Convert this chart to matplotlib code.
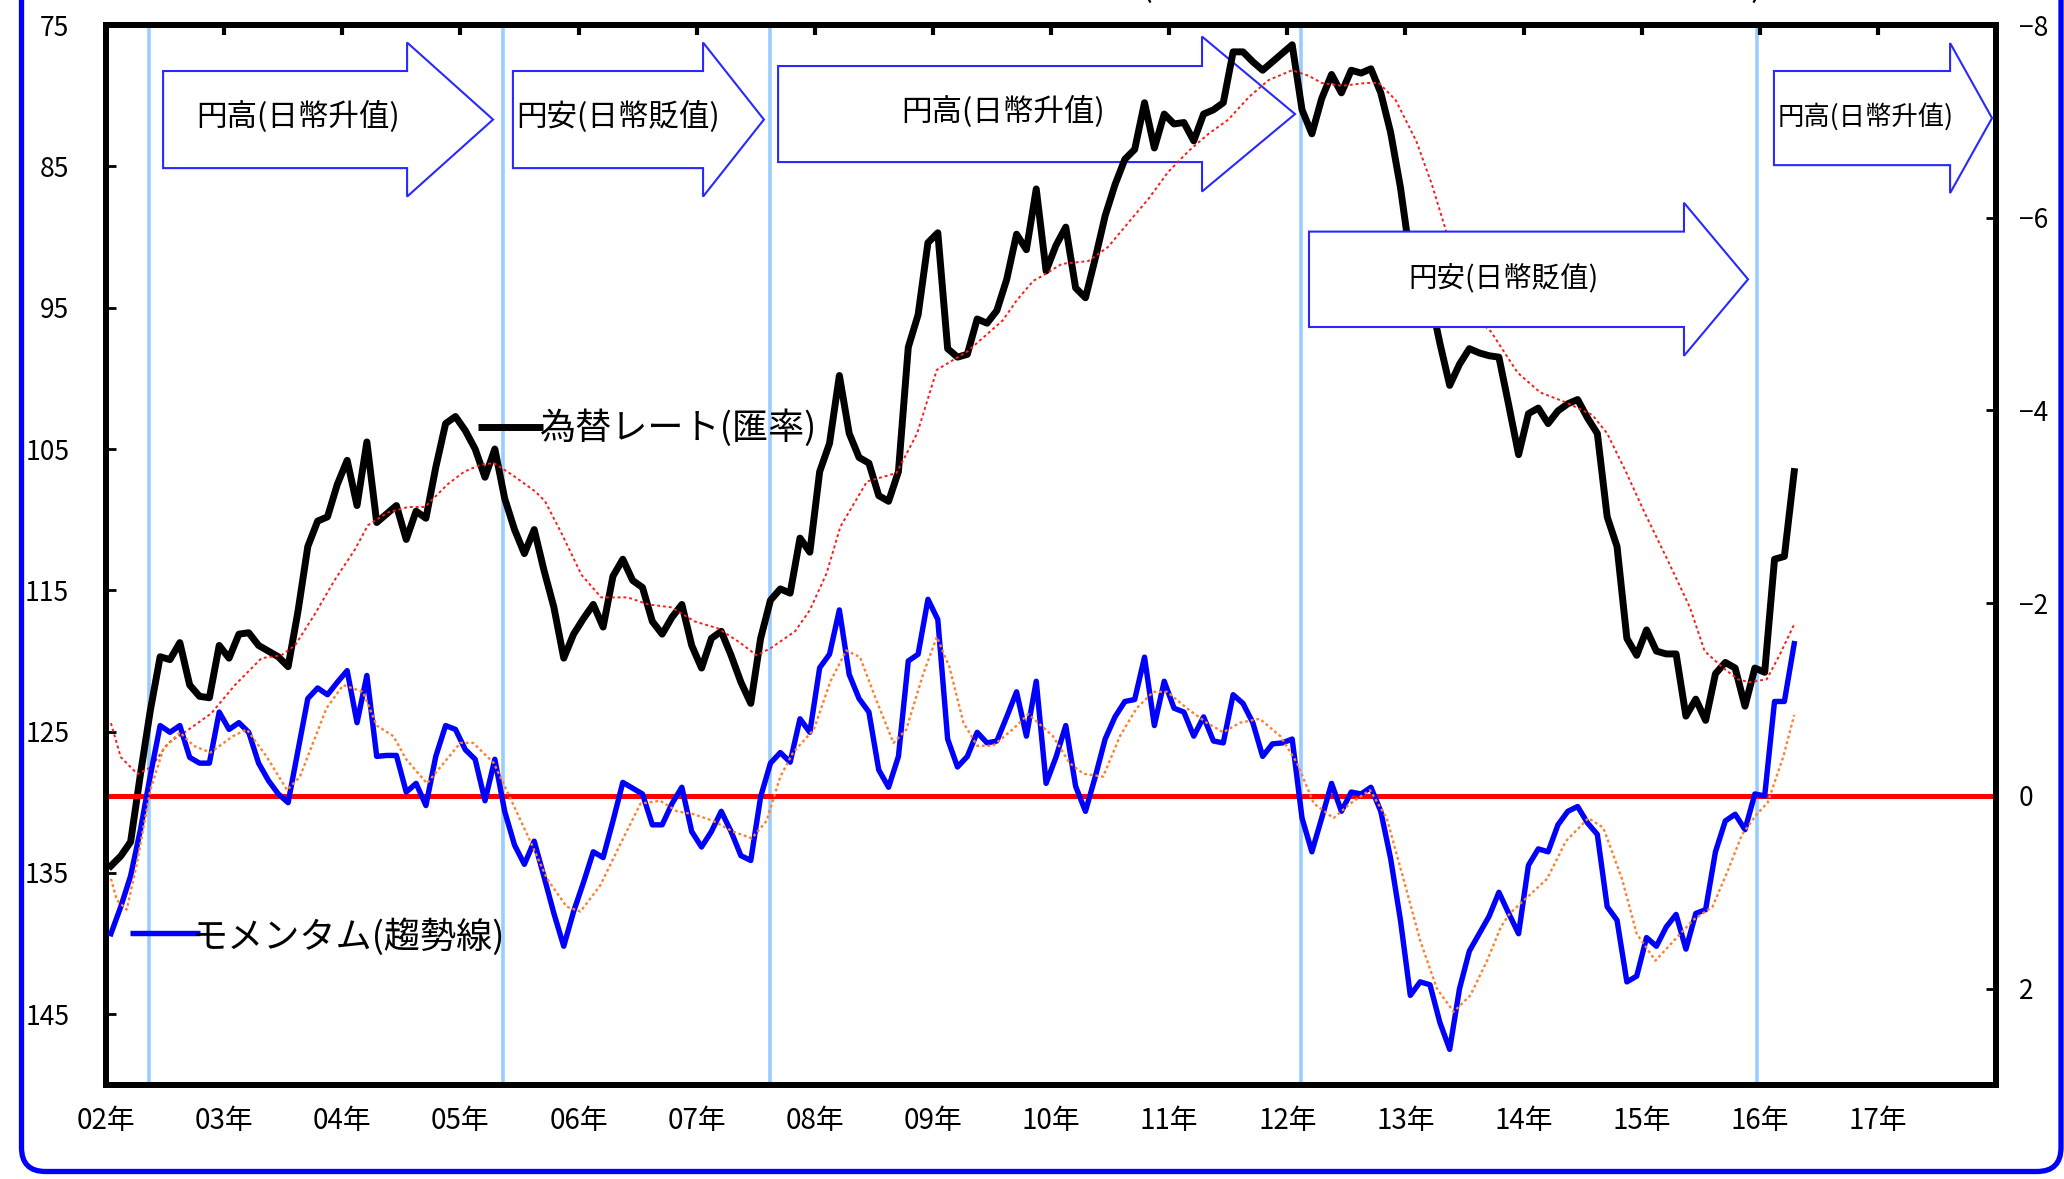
import matplotlib
matplotlib.use("Agg")
import matplotlib.pyplot as plt
from matplotlib.patches import Polygon, FancyBboxPatch
from matplotlib.transforms import IdentityTransform
import numpy as np

plt.rcParams['font.family'] = ['Noto Sans CJK JP', 'DejaVu Sans']
plt.rcParams['axes.unicode_minus'] = True

# month-end USD/JPY, Jan 2002 .. Apr 2016 (left axis, reversed)
fx_rate = [
    134.5, 133.8, 132.8, 128.0, 123.5, 119.7, 119.9, 118.7, 121.7, 122.5, 122.6, 118.9,
    119.8, 118.1, 118.0, 118.9, 119.3, 119.7, 120.4, 116.5, 111.9, 110.1, 109.8, 107.5,
    105.8, 109.0, 104.5, 110.2, 109.6, 109.0, 111.4, 109.4, 109.9, 106.3, 103.2, 102.7,
    103.7, 105.0, 107.0, 105.0, 108.5, 110.7, 112.4, 110.7, 113.6, 116.2, 119.8, 118.1,
    117.0, 116.0, 117.6, 114.0, 112.8, 114.3, 114.8, 117.2, 118.1, 116.9, 116.0, 118.9,
    120.5, 118.4, 117.9, 119.6, 121.5, 123.0, 118.4, 115.7, 114.9, 115.2, 111.3, 112.3,
    106.6, 104.6, 99.8, 103.9, 105.6, 106.0, 108.3, 108.7, 106.6, 97.8, 95.5, 90.4,
    89.7, 97.9, 98.5, 98.3, 95.8, 96.1, 95.2, 93.0, 89.8, 90.9, 86.6, 92.4,
    90.6, 89.3, 93.6, 94.3, 91.5, 88.5, 86.3, 84.5, 83.8, 80.5, 83.7, 81.3,
    82.0, 81.9, 83.2, 81.3, 81.0, 80.5, 76.9, 76.9, 77.6, 78.2, 77.6, 77.0,
    76.4, 81.0, 82.7, 80.2, 78.5, 79.8, 78.2, 78.4, 78.1, 79.8, 82.6, 86.5,
    91.5, 92.6, 94.2, 97.5, 100.5, 99.0, 97.9, 98.2, 98.4, 98.5, 101.9, 105.4,
    102.5, 102.1, 103.2, 102.3, 101.8, 101.5, 102.8, 103.9, 109.8, 111.9, 118.4, 119.6,
    117.8, 119.3, 119.5, 119.5, 123.9, 122.7, 124.2, 120.9, 120.1, 120.5, 123.2, 120.5,
    120.8, 112.8, 112.6, 106.6,
]

# momentum (right axis, reversed)
momentum = [
    1.43, 1.15, 0.83, 0.35, -0.21, -0.73, -0.66, -0.73, -0.40, -0.34, -0.34, -0.87,
    -0.69, -0.76, -0.66, -0.34, -0.16, -0.02, 0.07, -0.47, -1.01, -1.12, -1.05, -1.18,
    -1.30, -0.76, -1.25, -0.41, -0.42, -0.42, -0.04, -0.13, 0.10, -0.41, -0.73, -0.69,
    -0.48, -0.38, 0.05, -0.38, 0.16, 0.51, 0.71, 0.47, 0.84, 1.22, 1.56, 1.20,
    0.90, 0.58, 0.64, 0.26, -0.14, -0.08, -0.02, 0.30, 0.30, 0.08, -0.09, 0.37,
    0.53, 0.37, 0.16, 0.37, 0.62, 0.67, 0.01, -0.34, -0.45, -0.35, -0.80, -0.66,
    -1.33, -1.47, -1.93, -1.26, -1.01, -0.87, -0.27, -0.09, -0.41, -1.40, -1.47, -2.04,
    -1.83, -0.59, -0.30, -0.41, -0.66, -0.55, -0.57, -0.82, -1.08, -0.62, -1.19, -0.13,
    -0.40, -0.73, -0.10, 0.16, -0.20, -0.59, -0.82, -0.98, -1.00, -1.44, -0.73, -1.19,
    -0.91, -0.87, -0.62, -0.82, -0.57, -0.55, -1.05, -0.96, -0.76, -0.41, -0.54, -0.55,
    -0.59, 0.23, 0.58, 0.23, -0.13, 0.16, -0.04, -0.02, -0.09, 0.16, 0.65, 1.29,
    2.07, 1.93, 1.96, 2.35, 2.63, 2.00, 1.61, 1.43, 1.25, 1.00, 1.22, 1.43,
    0.72, 0.55, 0.58, 0.30, 0.16, 0.11, 0.28, 0.40, 1.15, 1.29, 1.93, 1.87,
    1.47, 1.56, 1.36, 1.23, 1.59, 1.22, 1.18, 0.58, 0.26, 0.19, 0.35, -0.02,
    0.00, -0.98, -0.98, -1.58,
]

# smoothed rate (red dotted), month index / value pairs
rate_avg_month = [0.0, 1.0, 2.7, 4.1, 5.8, 7.8, 10.2, 12.6, 15.3, 17.3, 18.7, 20.7, 22.7,
                  24.8, 26.1, 28.1, 30.2, 31.9, 34.2, 35.9, 37.6, 38.9, 40.7, 43.1, 44.1,
                  45.8, 47.8, 49.8, 52.5, 54.6, 56.9, 59.3, 61.7, 63.9, 65.6, 67.0, 69.5,
                  71.0, 72.7, 74.1, 76.8, 79.8, 81.9, 83.9, 87.0, 88.8, 90.6, 92.0, 93.7,
                  94.5, 96.6, 99.3, 101.3, 103.7, 105.4, 107.4, 109.5, 111.5, 113.5, 115.6,
                  117.6, 120.0, 121.7, 123.0, 125.1, 127.5, 128.8, 130.5, 132.6, 134.2,
                  135.6, 137.3, 139.1, 140.2, 142.9, 145.2, 147.8, 150.5, 152.0, 153.9,
                  155.8, 158.1, 160.4, 161.9, 163.8, 165.3, 166.4, 168.2, 169.5, 171.0]
rate_avg = [124.4, 126.8, 128.0, 127.5, 125.8, 124.9, 123.7, 121.7, 119.8, 119.6, 118.9, 116.7,
            114.3, 112.1, 110.4, 109.5, 109.1, 109.1, 107.5, 106.6, 106.1, 106.0, 106.8, 108.0,
            108.7, 111.0, 113.9, 115.5, 115.5, 116.0, 116.2, 117.2, 117.7, 118.7, 119.6, 119.1,
            117.9, 116.4, 113.8, 110.5, 107.3, 106.7, 103.9, 99.4, 98.1, 97.0, 95.9, 94.5,
            93.1, 92.8, 91.9, 91.7, 90.7, 88.7, 87.3, 85.4, 83.9, 82.7, 81.7, 80.1, 78.9,
            78.2, 78.6, 79.1, 79.3, 79.1, 79.1, 80.3, 83.2, 86.3, 89.5, 92.8, 96.0, 96.7,
            99.6, 101.0, 101.7, 102.6, 103.9, 106.6, 109.5, 112.8, 116.2, 119.3, 120.5,
            121.3, 121.5, 121.3, 119.6, 117.4]

# smoothed momentum (orange dotted)
mom_avg_month = [0.0, 0.6, 1.6, 2.6, 4.0, 5.3, 7.0, 8.4, 10.1, 12.4, 13.8, 15.8, 17.9, 19.2,
                 21.9, 23.6, 25.6, 27.0, 28.7, 30.0, 32.1, 33.8, 35.5, 36.8, 38.9, 40.5,
                 42.6, 44.3, 46.3, 47.7, 49.7, 51.7, 53.8, 55.8, 57.5, 59.2, 61.2, 63.2,
                 65.1, 66.6, 68.0, 69.3, 71.4, 73.1, 74.7, 76.1, 77.8, 79.5, 80.8, 82.5,
                 83.9, 85.2, 86.6, 88.0, 89.6, 91.6, 93.2, 95.7, 97.4, 98.8, 100.8, 102.5,
                 104.2, 105.9, 107.3, 109.3, 111.3, 113.0, 114.7, 116.7, 118.8, 120.5,
                 122.2, 124.2, 125.9, 127.9, 129.6, 131.3, 133.0, 134.7, 136.4, 138.1,
                 139.8, 141.2, 142.1, 144.0, 145.9, 147.8, 150.1, 151.6, 153.5, 155.0,
                 156.9, 158.8, 160.7, 162.7, 164.2, 165.7, 167.2, 168.3, 169.9, 171.0]
mom_avg = [0.86, 1.08, 1.18, 0.72, -0.06, -0.48, -0.66, -0.52, -0.45, -0.62, -0.69, -0.41,
           -0.06, -0.20, -0.91, -1.15, -1.08, -0.73, -0.62, -0.38, -0.13, -0.34, -0.55, -0.55,
           -0.34, 0.01, 0.47, 0.86, 1.15, 1.20, 0.93, 0.51, 0.08, 0.05, 0.16, 0.19, 0.26, 0.37,
           0.44, 0.26, -0.20, -0.45, -0.69, -1.19, -1.51, -1.44, -0.98, -0.55, -0.69, -1.26,
           -1.65, -1.33, -0.76, -0.52, -0.52, -0.69, -0.85, -0.62, -0.34, -0.23, -0.20, -0.62,
           -0.91, -1.08, -1.08, -0.91, -0.76, -0.66, -0.76, -0.80, -0.62, -0.34, 0.08, 0.23,
           0.08, -0.06, 0.23, 0.86, 1.50, 2.00, 2.24, 2.07, 1.71, 1.36, 1.22, 1.04, 0.86, 0.47,
           0.23, 0.33, 0.86, 1.43, 1.71, 1.50, 1.29, 1.15, 0.79, 0.40, 0.19, 0.07, -0.41, -0.84]

# trend change markers (months from Jan 2002)
turn_months = [4.4, 40.3, 67.5, 121.4, 167.7]

year_labels = ['02年', '03年', '04年', '05年', '06年', '07年', '08年', '09年',
               '10年', '11年', '12年', '13年', '14年', '15年', '16年', '17年']
label_up = '円高(日幣升值)'
label_down = '円安(日幣貶值)'

fig = plt.figure(figsize=(20.64, 11.79), dpi=100)
fig.patch.set_facecolor('white')
ax = fig.add_axes([0.05136, 0.07973, 0.9157, 0.89906])
ax2 = ax.twinx()

xm = np.arange(len(fx_rate)) + 0.5
for m in turn_months:
    ax.axvline(m, color='#99CCFF', lw=2.6, zorder=1)

ax.plot(xm, fx_rate, color='black', lw=5.0, zorder=3, solid_joinstyle='round')
ax.plot(np.array(rate_avg_month) + 0.5, rate_avg, color='#FF1A1A', lw=1.4,
        linestyle=(0, (1.5, 1.5)), zorder=3.5)

ax2.axhline(0, color='#FF0000', lw=3.6, zorder=2)
ax2.plot(xm, momentum, color='#0000FF', lw=3.9, zorder=3, solid_joinstyle='round')
ax2.plot(np.array(mom_avg_month) + 0.5, mom_avg, color='#FF8030', lw=1.7,
         linestyle=(0, (1.2, 1.2)), zorder=3.5)

ax.set_xlim(0, 192)
ax.set_ylim(150, 75)
ax2.set_ylim(3, -8)
ax.set_xticks(np.arange(0, 192, 12))
ax.set_xticklabels(year_labels)
ax.set_yticks(np.arange(75, 150, 10))
ax2.set_yticks(np.arange(-8, 3, 2))

ax.tick_params(axis='x', top=True, bottom=False, labeltop=False, labelbottom=True,
               direction='in', length=7, width=3, pad=15, labelsize=20)
ax.tick_params(axis='y', direction='in', length=7, width=2, pad=26.5, labelsize=19)
ax2.tick_params(axis='y', direction='in', length=7, width=2, pad=16.5, labelsize=19)
for a in (ax, ax2):
    for s in a.spines.values():
        s.set_linewidth(4.3)
        s.set_color('black')


def block_arrow(axis, x0, xb, xt, yc, hb, hh, z):
    pts = [(x0, yc - hb), (x0, yc + hb), (xb, yc + hb), (xb, yc + hh),
           (xt, yc), (xb, yc - hh), (xb, yc - hb)]
    axis.add_patch(Polygon(pts, closed=True, transform=axis.transAxes, facecolor='white',
                           edgecolor='#2828FF', lw=1.5, zorder=z))


block_arrow(ax2, 0.0302, 0.1593, 0.2048, 0.9108, 0.0458, 0.0727, 6)
block_arrow(ax2, 0.2153, 0.3159, 0.3481, 0.9108, 0.0458, 0.0727, 6)
block_arrow(ax, 0.3556, 0.5799, 0.6291, 0.9160, 0.0453, 0.0731, 2)
block_arrow(ax2, 0.6365, 0.8349, 0.8688, 0.7601, 0.0450, 0.0722, 6)
block_arrow(ax2, 0.8825, 0.9757, 0.9979, 0.9122, 0.0444, 0.0708, 6)

ax2.text(0.1016, 0.913, label_up, transform=ax2.transAxes, ha='center', va='center',
         fontsize=22, zorder=7)
ax2.text(0.2709, 0.913, label_down, transform=ax2.transAxes, ha='center', va='center',
         fontsize=22, zorder=7)
ax.text(0.4746, 0.918, label_up, transform=ax.transAxes, ha='center', va='center',
        fontsize=22, zorder=2.5)
ax2.text(0.7392, 0.761, label_down, transform=ax2.transAxes, ha='center', va='center',
         fontsize=20.5, zorder=7)
ax2.text(0.9312, 0.913, label_up, transform=ax2.transAxes, ha='center', va='center',
         fontsize=19, zorder=7)

# series labels
ax2.plot([0.1968, 0.2312], [0.6208, 0.6208], transform=ax2.transAxes, color='black',
         lw=5.0, solid_capstyle='butt', zorder=7)
ax2.text(0.2296, 0.620, '為替レート(匯率)', transform=ax2.transAxes, ha='left',
         va='center', fontsize=26, zorder=7)
ax2.plot([0.0127, 0.0497], [0.1434, 0.1434], transform=ax2.transAxes, color='#0000FF',
         lw=3.9, solid_capstyle='butt', zorder=7)
ax2.text(0.0455, 0.139, 'モメンタム(趨勢線)', transform=ax2.transAxes, ha='left',
         va='center', fontsize=26, zorder=7)

# title (cut off at the top edge in the source)
fig.text(0.581, 1 + 4 / 1179, 'ドル円為替レートのモメンタム(移動平均と1年の趨勢分析 2002-2016)',
         ha='center', va='baseline', fontsize=26)

frame = FancyBboxPatch((21.5, 7.5), 2039.5, 1300, boxstyle='round,pad=0,rounding_size=24',
                       transform=IdentityTransform(), fill=False, edgecolor='#0000FF', lw=3.8)
fig.add_artist(frame)

fig.savefig('out.png', dpi=100, facecolor='white')
